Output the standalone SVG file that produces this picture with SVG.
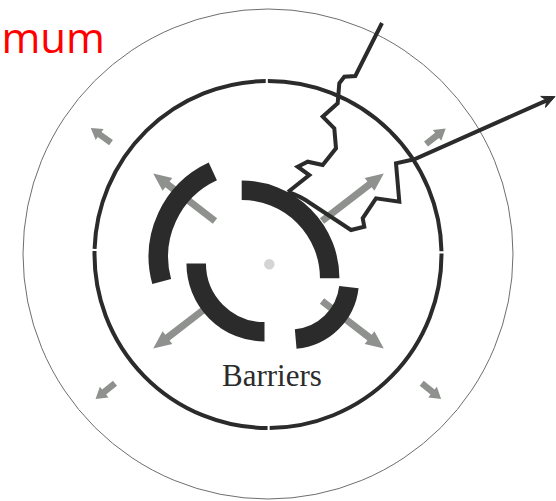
<svg xmlns="http://www.w3.org/2000/svg" xmlns:xlink="http://www.w3.org/1999/xlink" width="556" height="501" viewBox="0 0 556 501">
  <style>
    .ring-outer { fill: none; stroke: #6e6e6e; stroke-width: 1; }
    .ring-mid { fill: none; stroke: #2b2b2b; stroke-width: 4; }
    .barrier { fill: none; stroke: #2b2b2b; stroke-width: 19.5; stroke-linecap: butt; }
    .garrow { fill: #8f918f; }
    .bolt { fill: none; stroke: #2b2b2b; stroke-width: 4; stroke-linejoin: miter; stroke-linecap: butt; }
    .label { font-family: "Liberation Serif", "Times New Roman", serif; font-size: 31px; fill: #2b2b2b; }
    .title { font-family: "Open Sans", "Liberation Sans", sans-serif; font-size: 42px; fill: #ff0000; }
  </style>
  <defs>
    <path id="bigArrow" d="M0,-3.5H60V-8L78,0L60,8V3.5H0Z"/>
    <path id="smallArrow" d="M0,-3.2H14V-6.8L25,0L14,6.8V3.2H0Z"/>
  </defs>

  <rect width="556" height="501" fill="#ffffff"/>

  <text class="title" x="105" y="52.7" text-anchor="end">mum</text>

  <g id="outer-ring">
    <circle class="ring-outer" cx="268" cy="254" r="245"/>
  </g>

  <g id="middle-ring">
    <path class="ring-mid" d="M267.85,81 A173.5,173.5 0 0 1 441.47,251.32"/>
    <path class="ring-mid" d="M441.5,253.44 A173.5,173.5 0 0 1 269.67,428"/>
    <path class="ring-mid" d="M267.55,428 A173.5,173.5 0 0 1 94.53,251.02"/>
    <path class="ring-mid" d="M94.59,248.9 A173.5,173.5 0 0 1 265.73,81"/>
  </g>

  <g id="outer-arrows">
    <use xlink:href="#smallArrow" class="garrow" transform="translate(111,142.7) rotate(216)"/>
    <use xlink:href="#smallArrow" class="garrow" transform="translate(426,144) rotate(-38)"/>
    <use xlink:href="#smallArrow" class="garrow" transform="translate(115,383.3) rotate(141)"/>
    <use xlink:href="#smallArrow" class="garrow" transform="translate(421.7,383.3) rotate(39)"/>
  </g>

  <g id="inner-arrows">
    <use xlink:href="#bigArrow" class="garrow" transform="translate(215,221) rotate(217.6)"/>
    <use xlink:href="#bigArrow" class="garrow" transform="translate(322,221) rotate(-37.6)"/>
    <use xlink:href="#bigArrow" class="garrow" transform="translate(215,301) rotate(142.4)"/>
    <use xlink:href="#bigArrow" class="garrow" transform="translate(322,301) rotate(37.6)"/>
  </g>

  <g id="barriers">
    <path class="barrier" d="M161.7,281.5 A94,94 0 0 1 212.8,171.4"/>
    <path class="barrier" d="M241.7,190.3 A88,88 0 0 1 329.7,278.3"/>
    <path class="barrier" d="M196.2,263.5 A68.3,68.3 0 0 0 264.5,331.8"/>
    <path class="barrier" d="M348.9,287.2 A58.7,58.7 0 0 1 295.7,339"/>
  </g>

  <g id="center">
    <circle cx="269.3" cy="264.3" r="5.2" fill="#d4d4d4"/>
  </g>

  <g id="connectors">
    <path class="bolt" d="M382,23 L355.3,76 L344.3,76.7 L339.3,83.3 L337.7,103.3 L322.7,116.7 L334.3,128.3 L336,148.3 L322.7,165 L307.7,161.7 L297.7,166.7 L309.3,175 L288,192"/>
    <path class="bolt" d="M288,192 Q300,196 310,203 L351,230 L364.3,226.7 L362.7,218.3 L376,198.3 L399.3,201.7 L396,163.3 L414.3,159.3 L546.8,100.3"/>
    <path d="M555,96.6 L545.5,107.4 L546.8,100.3 L540.7,96.4 Z" fill="#2b2b2b" stroke="#2b2b2b" stroke-width="1" stroke-linejoin="miter"/>
  </g>

  <g id="label">
    <text class="label" x="222" y="386">Barriers</text>
  </g>
</svg>
